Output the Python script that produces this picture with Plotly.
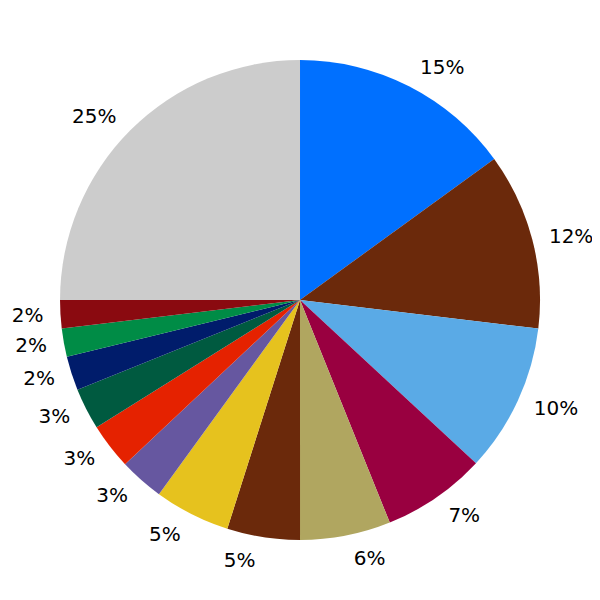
import plotly.graph_objects as go

categories = ["A", "B", "C", "D", "E", "F", "G", "H", "I", "J", "K", "L", "M", "N"]
values = [15.0, 11.9, 10.0, 7.0, 6.1, 4.9, 5.1, 3.0, 3.1, 2.8, 2.3, 1.9, 1.9, 25.0]
colors = ["#0070FF", "#6B290B", "#5AAAE6", "#990040", "#B0A660", "#6B290B",
          "#E6C21E", "#6657A0", "#E52200", "#005A40", "#001C6B", "#008C46",
          "#8A0A10", "#CCCCCC"]

# visible pie (no text)
fig = go.Figure(go.Pie(
    labels=categories,
    values=values,
    sort=False,
    direction="clockwise",
    rotation=0,
    domain=dict(x=[0.0867, 0.8867], y=[0.1133, 0.9133]),
    marker=dict(colors=colors, line=dict(width=0)),
    textinfo="none",
    showlegend=False,
    hoverinfo="skip",
))
# transparent, slightly larger pie that carries the outside percentage labels
fig.add_trace(go.Pie(
    labels=categories,
    values=values,
    sort=False,
    direction="clockwise",
    rotation=0,
    domain=dict(x=[0.0683, 0.905], y=[0.095, 0.9317]),
    marker=dict(colors=["rgba(0,0,0,0)"] * len(values), line=dict(width=0)),
    texttemplate="%{percent:.0%}",
    textposition="outside",
    textfont=dict(family="DejaVu Sans", size=20, color="black"),
    showlegend=False,
    hoverinfo="skip",
))
fig.update_layout(
    width=600, height=600,
    margin=dict(l=0, r=0, t=0, b=0),
    paper_bgcolor="white",
)
fig.write_html("out.html")
